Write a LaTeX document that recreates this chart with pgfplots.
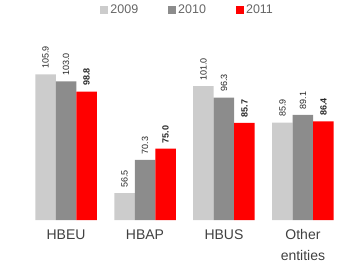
\documentclass[border=0pt]{standalone}
\usepackage{fontspec}
\setmainfont{Liberation Sans}
\usepackage{pgfplots}
\pgfplotsset{compat=1.18}
\definecolor{c09}{RGB}{204,204,204}
\definecolor{c10}{RGB}{140,140,140}
\definecolor{c11}{RGB}{255,0,0}
\begin{document}
\begin{tikzpicture}
\useasboundingbox (-25pt,-54pt) rectangle (319pt,220pt);
\begin{axis}[
  scale only axis, width=319pt, height=195pt,
  anchor=south west, at={(0pt,0pt)},
  ybar=0pt, bar width=20.5pt,
  xmin=-0.52, xmax=3.52, ymin=45.3, ymax=126.5,
  axis line style={draw=none},
  ytick=\empty,
  xtick={0,1,2,3},
  xticklabels={HBEU,HBAP,HBUS,{Other\\entities}},
  major tick length=0pt,
  xticklabel style={align=center, font=\fontsize{14}{21}\selectfont, text=black!75, yshift=-6pt},
  /pgf/number format/assume math mode=true,
  nodes near coords={\pgfmathprintnumber[fixed,fixed zerofill,precision=1]{\pgfplotspointmeta}},
  every node near coord/.append style={rotate=90, anchor=west, font=\fontsize{9}{9}\selectfont, text=black!85, xshift=2pt},
  legend style={at={(0.51,1.03)}, anchor=south, draw=none, fill=none, legend columns=3,
    font=\fontsize{12.5}{12.5}\selectfont, text=black!60,
    /tikz/every even column/.append style={column sep=28pt}},
  legend image code/.code={\fill[#1] (0pt,-4pt) rectangle (8pt,4pt);},
]
\addplot[fill=c09, draw=none] coordinates {(0,105.9) (1,56.5) (2,101.0) (3,85.9)};
\addplot[fill=c10, draw=none] coordinates {(0,103.0) (1,70.3) (2,96.3) (3,89.1)};
\addplot[fill=c11, draw=none, every node near coord/.append style={font=\fontsize{9}{9}\selectfont\bfseries}] coordinates {(0,98.8) (1,75.0) (2,85.7) (3,86.4)};
\legend{2009,2010,2011}
\end{axis}
\end{tikzpicture}
\end{document}
